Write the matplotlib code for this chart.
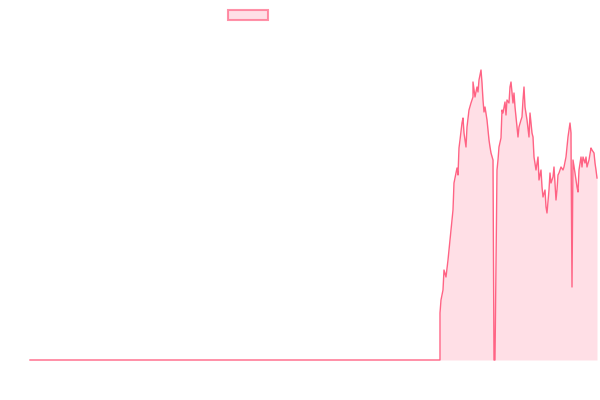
import matplotlib
matplotlib.use("Agg")
import matplotlib.pyplot as plt
from matplotlib.patches import Patch

# sample index and value
steps = [0, 410, 410, 411, 413, 414, 416, 418, 421, 423, 424, 426, 427, 428,
         429, 430, 432, 433, 434, 436, 437, 439, 441, 443, 443, 445, 447, 448,
         449, 451, 452, 453, 454, 455, 457, 459, 460, 461, 463, 464, 465, 467,
         468, 469, 471, 472, 473, 475, 476, 477, 479, 480, 481, 483, 484, 485,
         487, 488, 489, 491, 492, 493, 494, 495, 497, 499, 500, 502, 503, 504,
         506, 508, 509, 511, 512, 513, 515, 516, 517, 519, 520, 521, 523, 524,
         526, 527, 528, 529, 531, 533, 534, 536, 538, 539, 540, 541, 541, 542,
         543, 545, 547, 548, 549, 551, 552, 553, 555, 556, 557, 559, 561, 562,
         564, 565, 566, 567]
values = [0, 0, 47, 60, 70, 90, 83, 100, 130, 150, 177, 187, 192, 185, 212,
          220, 237, 242, 227, 213, 233, 250, 257, 263, 278, 263, 273, 268, 280,
          290, 277, 260, 248, 253, 240, 220, 213, 207, 200, 0, 0, 190, 200,
          213, 222, 250, 247, 258, 245, 260, 257, 273, 278, 257, 267, 253, 233,
          223, 233, 240, 243, 260, 273, 253, 240, 223, 247, 227, 223, 203, 190,
          203, 180, 190, 173, 163, 170, 153, 147, 170, 187, 177, 183, 193, 160,
          170, 185, 187, 193, 190, 193, 203, 223, 230, 237, 227, 220, 73, 200,
          187, 173, 168, 190, 203, 193, 203, 197, 203, 193, 200, 212, 210, 207,
          197, 190, 182]

line_color = "#ff6384"
fill_color = (1.0, 0.388, 0.518, 0.2)

fig = plt.figure(figsize=(6, 4), dpi=100)
ax = fig.add_axes([0.05, 0.1, 0.945, 0.8])

ax.fill_between(steps, values, 0, color=fill_color, lw=0)
ax.plot(steps, values, color=line_color, lw=1, clip_on=False)

ax.set_xlim(0, 567)
ax.set_ylim(0, 320)
ax.axis("off")

# legend: just the coloured box, the dataset has no label
box = Patch(facecolor=fill_color, edgecolor=(1.0, 0.388, 0.518, 0.7), lw=1.5)
fig.legend(handles=[box], labels=[""], loc="center",
           bbox_to_anchor=(0.413, 0.961), frameon=False,
           handlelength=2.88, handleheight=0.79, handletextpad=0,
           borderpad=0, borderaxespad=0)

fig.savefig("out.png", dpi=100)
